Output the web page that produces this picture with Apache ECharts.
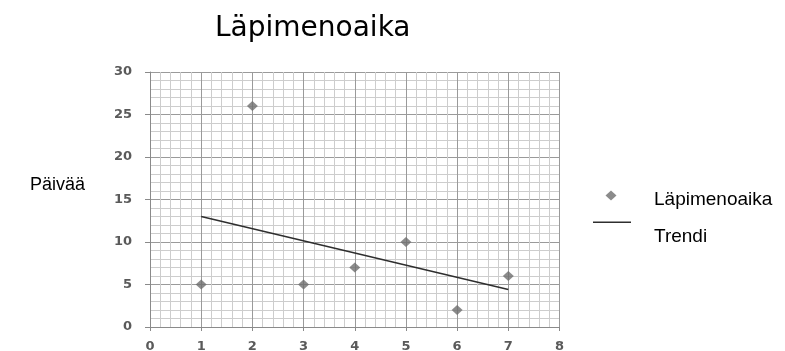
<!DOCTYPE html>
<html>
<head>
<meta charset="utf-8">
<script src="https://cdn.jsdelivr.net/npm/echarts@6/dist/echarts.min.js"></script>
<style>html,body{margin:0;padding:0;background:#fff}#c{width:785px;height:351px}</style>
</head>
<body>
<div id="c"></div>
<script>
var titleText = 'Läpimenoaika';
var yAxisTitle = 'Päivää';
var seriesNames = ['Läpimenoaika', 'Trendi'];
var xValues = [1, 2, 3, 4, 5, 6, 7];
var yValues = [5, 26, 5, 7, 10, 2, 6];
var trendX = [1, 7];
var trendY = [13.0, 4.4];
var xTicks = [0, 1, 2, 3, 4, 5, 6, 7, 8];
var yTicks = [0, 5, 10, 15, 20, 25, 30];

var chart = echarts.init(document.getElementById('c'));
var labelStyle = {fontFamily: 'DejaVu Sans', fontSize: 13, fontWeight: 'bold', color: '#5a5a5a'};
var legendText = {fontFamily: 'Liberation Sans', fontSize: 19, color: '#000'};
chart.setOption({
  animation: false,
  backgroundColor: '#fff',
  title: [
    {text: titleText, left: 215, top: 15, padding: 0,
     textStyle: {fontFamily: 'DejaVu Sans', fontSize: 28, fontWeight: 'normal', color: '#000'}},
    {text: yAxisTitle, left: 30, top: 176, padding: 0,
     textStyle: {fontFamily: 'Liberation Sans', fontSize: 18, fontWeight: 'normal', color: '#000'}}
  ],
  legend: [
    {data: [{name: seriesNames[0], icon: 'path://M5.5,0 L11,5 L5.5,10 L0,5 Z M5.5,18 L5.51,18 Z'}],
     left: 605.5, top: 190, padding: 0, itemWidth: 11, itemHeight: 18,
     textStyle: Object.assign({padding: [0, 0, 0, 32.5]}, legendText)},
    {data: [{name: seriesNames[1], icon: 'path://M0,0 L38,0 L38,1.5 L0,1.5 Z M0,31.5 L0.01,31.5 Z'}],
     left: 593, top: 221.5, padding: 0, itemWidth: 38, itemHeight: 31.5,
     textStyle: Object.assign({padding: [0, 0, 0, 18]}, legendText)}
  ],
  grid: {left: 150, right: 225.5, top: 72, bottom: 24, containLabel: false, outerBoundsMode: 'none'},
  xAxis: {
    type: 'value', min: xTicks[0], max: xTicks[xTicks.length - 1], interval: 1,
    axisLine: {show: true, onZero: false, lineStyle: {color: '#8a8a8a', width: 1}},
    axisTick: {show: true, length: 4, lineStyle: {color: '#8a8a8a'}},
    axisLabel: Object.assign({margin: 13}, labelStyle),
    splitLine: {show: true, lineStyle: {color: '#9a9a9a', width: 1}},
    minorTick: {show: false, splitNumber: 5},
    minorSplitLine: {show: true, lineStyle: {color: '#cdcdcd', width: 1}}
  },
  yAxis: {
    type: 'value', min: yTicks[0], max: yTicks[yTicks.length - 1], interval: 5,
    axisLine: {show: true, lineStyle: {color: '#8a8a8a', width: 1}},
    axisTick: {show: true, length: 5, lineStyle: {color: '#8a8a8a'}},
    axisLabel: Object.assign({margin: 18}, labelStyle),
    splitLine: {show: true, lineStyle: {color: '#9a9a9a', width: 1}},
    minorTick: {show: false, splitNumber: 5},
    minorSplitLine: {show: true, lineStyle: {color: '#cdcdcd', width: 1}}
  },
  series: [
    {name: seriesNames[0], type: 'scatter', symbol: 'diamond', symbolSize: [11, 10],
     itemStyle: {color: '#6e6e6e'},
     data: xValues.map(function (x, i) { return [x, yValues[i]]; }), z: 3},
    {name: seriesNames[1], type: 'line', symbol: 'none', showSymbol: false,
     lineStyle: {color: '#2e2e2e', width: 1.5}, itemStyle: {color: '#2e2e2e'},
     data: trendX.map(function (x, i) { return [x, trendY[i]]; }), z: 2}
  ]
});
</script>
</body>
</html>
